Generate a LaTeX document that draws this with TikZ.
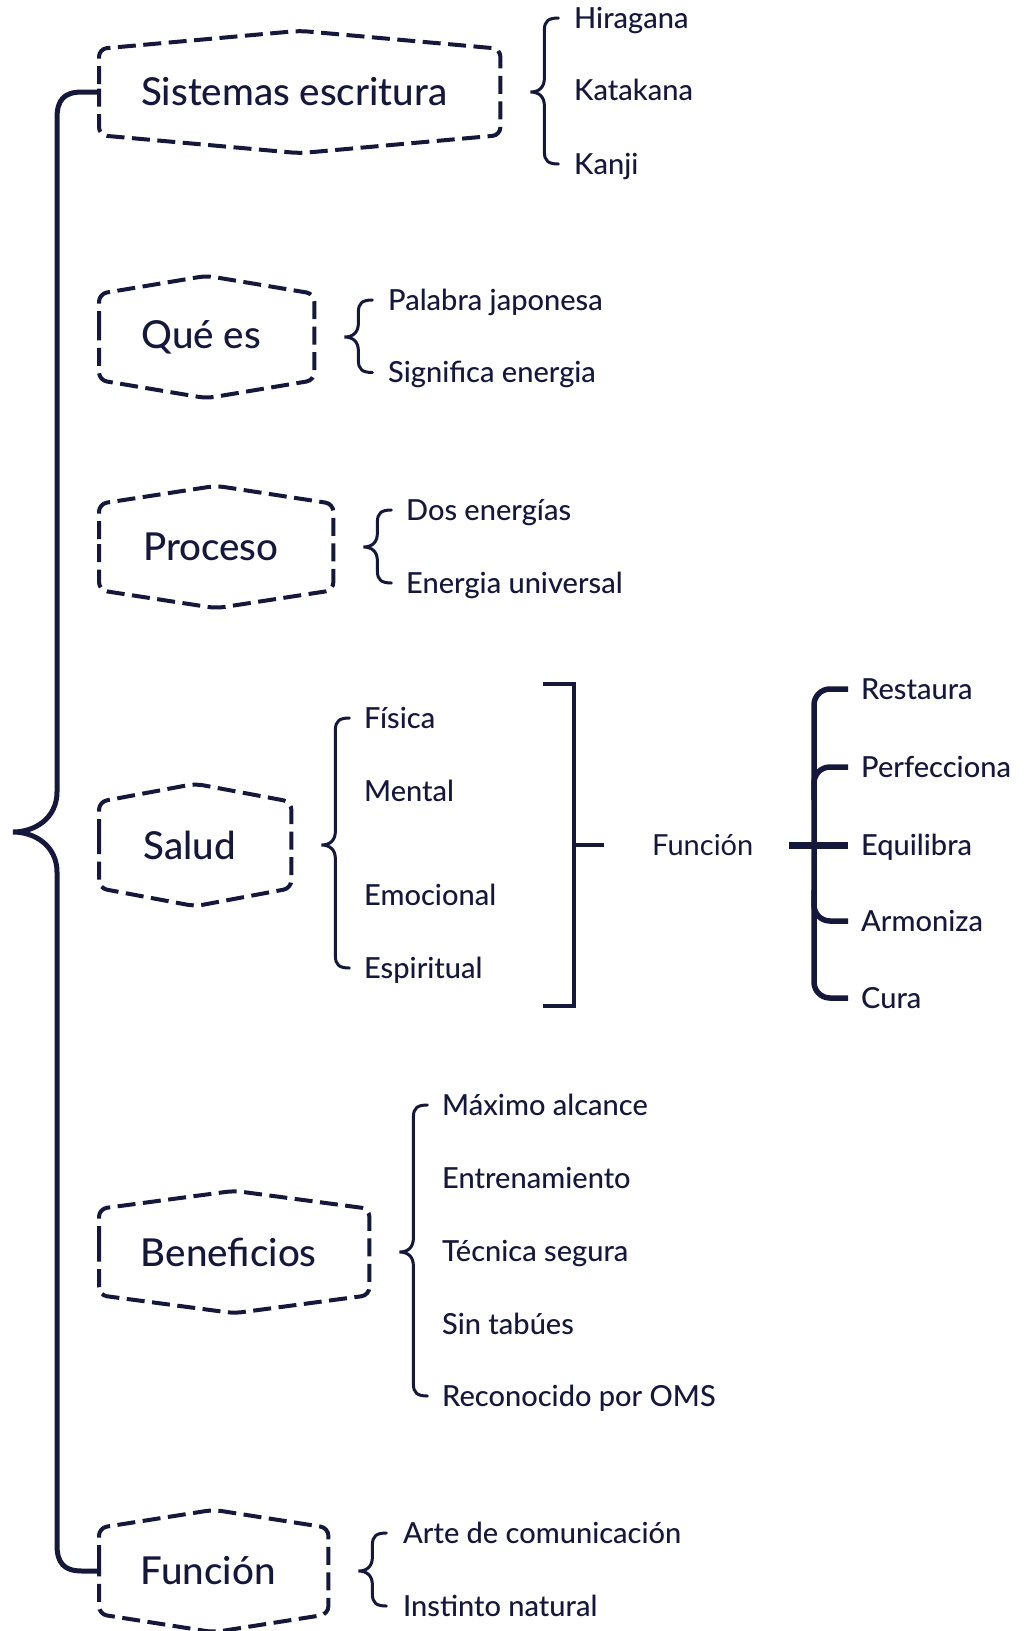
\documentclass[tikz,border=0pt]{standalone}
\usepackage{fontspec}
\IfFontExistsTF{Lato Medium}{\setmainfont{Lato Medium}}{\setmainfont{Lato}}
\newfontfamily\lightfont{Lato}
\usetikzlibrary{calc}
\definecolor{ink}{HTML}{15183A}
\newcommand\hexdraw[1]{\draw[hexline] (#1.west) -- (#1.north west) -- ([yshift=18pt]#1.north) -- (#1.north east) -- (#1.south east) -- ([yshift=-18pt]#1.south) -- (#1.south west) -- cycle;}
\newcommand\cbr[3]{%
 \draw[brc] let \p1=([xshift=30pt]#1.east), \p2=([yshift=10pt]#2.base west), \p3=([yshift=10pt]#3.base west) in
  (\x1+28pt,\y2) .. controls (\x1+18pt,\y2) and (\x1+14pt,\y2-3pt) .. (\x1+14pt,\y2-12pt)
  -- (\x1+14pt,\y1+14pt) .. controls (\x1+14pt,\y1+5pt) and (\x1+9pt,\y1) .. (\x1,\y1)
  .. controls (\x1+9pt,\y1) and (\x1+14pt,\y1-5pt) .. (\x1+14pt,\y1-14pt)
  -- (\x1+14pt,\y3+12pt) .. controls (\x1+14pt,\y3+3pt) and (\x1+18pt,\y3) .. (\x1+28pt,\y3);}
\begin{document}
\begin{tikzpicture}[x=1pt,y=-1pt,
  hexn/.style={font=\fontsize{38.5}{42}\selectfont, text=ink, inner xsep=0pt, minimum height=86pt, anchor=west},
  item/.style={font=\fontsize{29}{32}\selectfont, text=ink, inner sep=0pt, anchor=base west, yshift=-10pt},
  hexline/.style={draw=ink, line width=4pt, dash pattern=on 18pt off 7.5pt, rounded corners=8pt},
  brc/.style={draw=ink, line width=3pt, line cap=round},
  bigbrc/.style={draw=ink, line width=5pt},
  brk/.style={draw=ink, line width=4pt},
  hook/.style={draw=ink, line width=5.5pt, rounded corners=16pt},
]
\useasboundingbox (0,0) rectangle (1026,1631);
% hexagon nodes
\node[hexn, minimum width=401pt] (h1) at (99,92) {\hspace*{-11pt}Sistemas escritura};
\node[hexn, minimum width=215pt] (h2) at (99,337) {\hspace*{-11pt}Qué es};
\node[hexn, minimum width=234pt] (h3) at (99,547) {\hspace*{-11pt}Proceso};
\node[hexn, minimum width=192pt] (h4) at (99,845) {\hspace*{-11pt}Salud};
\node[hexn, minimum width=270pt] (h5) at (99,1252) {\hspace*{-11pt}Beneficios};
\node[hexn, minimum width=229pt] (h6) at (99,1571) {\hspace*{-11pt}Función};
\foreach \h in {h1,h2,h3,h4,h5,h6} {\hexdraw{\h}}
% items
\node[item] (i1a) at (574,18) {Hiragana};
\node[item] (i1b) at (574,90.5) {Katakana};
\node[item] (i1c) at (574,164) {Kanji};
\node[item] (i2a) at (388,300) {Palabra japonesa};
\node[item] (i2b) at (388,372.5) {Significa energia};
\node[item] (i3a) at (406,510) {Dos energías};
\node[item] (i3b) at (406,583) {Energia universal};
\node[item] (s1) at (364,718) {Física};
\node[item] (s2) at (364,791) {Mental};
\node[item] (s3) at (364,895) {Emocional};
\node[item] (s4) at (364,968) {Espiritual};
\node[item, font=\fontsize{29}{32}\lightfont] (fl) at (652,845) {Función};
\node[item] (r1) at (861,689) {Restaura};
\node[item] (r2) at (861,767) {Perfecciona};
\node[item] (r3) at (861,845) {Equilibra};
\node[item] (r4) at (861,921) {Armoniza};
\node[item] (r5) at (861,998) {Cura};
\node[item] (b1) at (442,1105) {Máximo alcance};
\node[item] (b2) at (442,1178) {Entrenamiento};
\node[item] (b3) at (442,1251) {Técnica segura};
\node[item] (b4) at (442,1324) {Sin tabúes};
\node[item] (b5) at (442,1396) {Reconocido por OMS};
\node[item] (f1) at (403,1533) {Arte de comunicación};
\node[item] (f2) at (403,1606) {Instinto natural};
% big brace
\draw[bigbrc] (h1.west) -- (82,92) .. controls (64,92) and (57,100) .. (57,118) -- (57,792) .. controls (57,818) and (35,832) .. (13,832) .. controls (35,832) and (57,846) .. (57,872) -- (57,1545) .. controls (57,1563) and (64,1571) .. (82,1571) -- (h6.west);
% small braces
\cbr{h1}{i1a}{i1c}
\cbr{h2}{i2a}{i2b}
\cbr{h3}{i3a}{i3b}
\cbr{h4}{s1}{s4}
\cbr{h5}{b1}{b5}
\cbr{h6}{f1}{f2}
% bracket
\draw[brk] (543,684) -- (574,684) -- (574,1006) -- (543,1006);
\draw[brk] (574,845) -- (604,845);
% right structure
\draw[hook] (848,689) -- (814,689) -- (814,998) -- (848,998);
\draw[hook] (814,800) |- (848,767);
\draw[hook] (814,890) |- (848,921);
\draw[draw=ink, line width=7pt] (789,845) -- (848,845);
\end{tikzpicture}
\end{document}
